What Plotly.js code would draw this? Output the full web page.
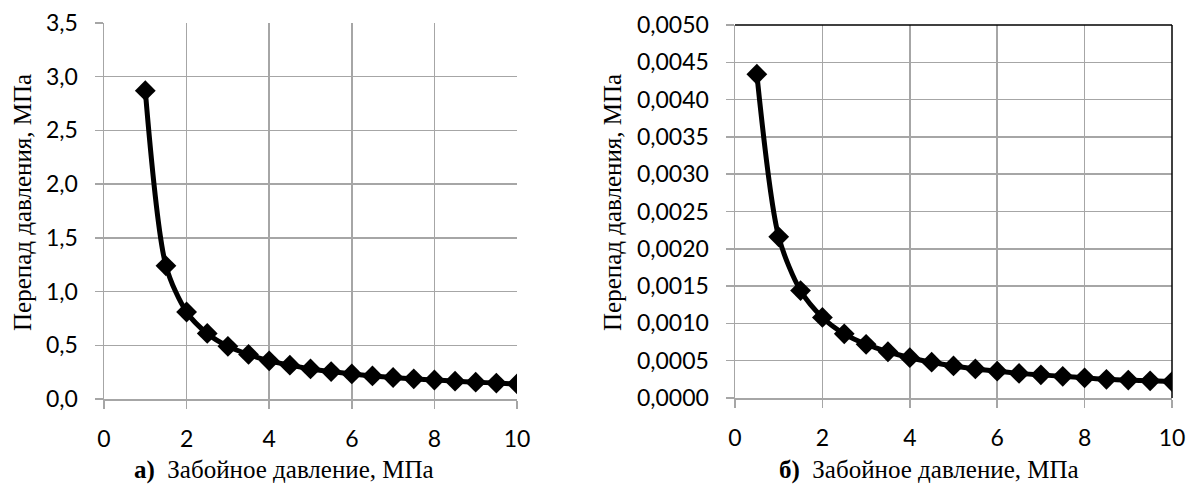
<!DOCTYPE html>
<html>
<head>
<meta charset="utf-8">
<script src="https://cdn.plot.ly/plotly-3.0.1.min.js"></script>
<style>html,body{margin:0;padding:0;background:#fff;}#chart{width:1188px;height:489px;}</style>
</head>
<body>
<div id="chart"></div>
<script>
// Left chart (а)
const xA = [1, 1.5, 2, 2.5, 3, 3.5, 4, 4.5, 5, 5.5, 6, 6.5, 7, 7.5, 8, 8.5, 9, 9.5, 10];
const yA = [2.87, 1.24, 0.81, 0.61, 0.49, 0.415, 0.355, 0.315, 0.28, 0.255, 0.233, 0.215, 0.2, 0.188, 0.177, 0.166, 0.157, 0.148, 0.14];
// Right chart (б)
const xB = [0.5, 1, 1.5, 2, 2.5, 3, 3.5, 4, 4.5, 5, 5.5, 6, 6.5, 7, 7.5, 8, 8.5, 9, 9.5, 10];
const yB = [0.00434, 0.00216, 0.00144, 0.00108, 0.00086, 0.00072, 0.00062, 0.00054, 0.00048, 0.00043, 0.00039, 0.00036, 0.00033, 0.00031, 0.00029, 0.00027, 0.00025, 0.00024, 0.00023, 0.00022];

const yTicksA = [0, 0.5, 1, 1.5, 2, 2.5, 3, 3.5];
const yTickTextA = ['0,0', '0,5', '1,0', '1,5', '2,0', '2,5', '3,0', '3,5'];
const yTicksB = [0, 0.0005, 0.001, 0.0015, 0.002, 0.0025, 0.003, 0.0035, 0.004, 0.0045, 0.005];
const yTickTextB = ['0,0000', '0,0005', '0,0010', '0,0015', '0,0020', '0,0025', '0,0030', '0,0035', '0,0040', '0,0045', '0,0050'];
const xTicks = [0, 2, 4, 6, 8, 10];

const yTitle = 'Перепад давления, МПа';
const xTitleA = '<b>а)</b>  Забойное давление, МПа';
const xTitleB = '<b>б)</b>  Забойное давление, МПа';

const W = 1188, H = 489;
const tickFont = {family: 'Lato', size: 23, color: '#000'};
const titleFont = {family: 'Liberation Serif', size: 25, color: '#000'};
const grid = '#a6a6a6';

function lineTrace(x, y, xa, ya) {
  return {
    x: x, y: y, xaxis: xa, yaxis: ya, type: 'scatter', mode: 'lines+markers',
    line: {color: '#000', width: 5, shape: 'spline', smoothing: 0.8},
    marker: {symbol: 'diamond', size: 16, color: '#000'},
    showlegend: false, hoverinfo: 'x+y'
  };
}

const xAxisBase = {
  range: [0, 10], tickvals: xTicks, ticktext: xTicks.map(String),
  showgrid: true, gridcolor: grid, gridwidth: 1.5,
  showline: true, linecolor: grid, linewidth: 1.5,
  ticks: 'outside', ticklen: 8, tickcolor: grid, tickwidth: 1.5,
  ticklabelstandoff: 11,
  tickfont: tickFont, zeroline: false, fixedrange: true
};
function yAxisBase(vals, text, range) {
  return {
    range: range, tickvals: vals, ticktext: text,
    showgrid: true, gridcolor: grid, gridwidth: 1.5,
    showline: true, linecolor: grid, linewidth: 1.5,
    ticks: 'outside', ticklen: 8, tickcolor: grid, tickwidth: 1.5,
    ticklabelstandoff: 12,
    tickfont: tickFont, zeroline: false, fixedrange: true
  };
}

const layout = {
  width: W, height: H,
  margin: {l: 0, r: 0, t: 0, b: 0},
  paper_bgcolor: '#fff', plot_bgcolor: '#fff',
  xaxis: Object.assign({}, xAxisBase, {domain: [104 / W, 517 / W], anchor: 'y'}),
  yaxis: Object.assign(yAxisBase(yTicksA, yTickTextA, [0, 3.5]), {domain: [1 - 399 / H, 1 - 23 / H], anchor: 'x'}),
  xaxis2: Object.assign({}, xAxisBase, {domain: [735 / W, 1172 / W], anchor: 'y2'}),
  yaxis2: Object.assign(yAxisBase(yTicksB, yTickTextB, [0, 0.005]), {domain: [1 - 398 / H, 1 - 25 / H], anchor: 'x2'}),
  shapes: [
    {type: 'line', xref: 'x2 domain', yref: 'y2 domain', x0: 0, x1: 1, y0: 1, y1: 1, line: {color: '#000', width: 1.5}},
    {type: 'line', xref: 'x2 domain', yref: 'y2 domain', x0: 1, x1: 1, y0: 0, y1: 1, line: {color: '#000', width: 1.5}}
  ],
  annotations: [
    {text: yTitle, xref: 'paper', yref: 'paper', x: 22 / W, y: 1 - 203 / H, textangle: -90, showarrow: false, font: titleFont, xanchor: 'center', yanchor: 'middle'},
    {text: yTitle, xref: 'paper', yref: 'paper', x: 612 / W, y: 1 - 203 / H, textangle: -90, showarrow: false, font: titleFont, xanchor: 'center', yanchor: 'middle'},
    {text: xTitleA, xref: 'paper', yref: 'paper', x: 284 / W, y: 1 - 470 / H, showarrow: false, font: titleFont, xanchor: 'center', yanchor: 'middle'},
    {text: xTitleB, xref: 'paper', yref: 'paper', x: 929 / W, y: 1 - 470 / H, showarrow: false, font: titleFont, xanchor: 'center', yanchor: 'middle'}
  ]
};

Plotly.newPlot('chart', [lineTrace(xA, yA, 'x', 'y'), lineTrace(xB, yB, 'x2', 'y2')], layout, {displayModeBar: false, staticPlot: true});
</script>
</body>
</html>
